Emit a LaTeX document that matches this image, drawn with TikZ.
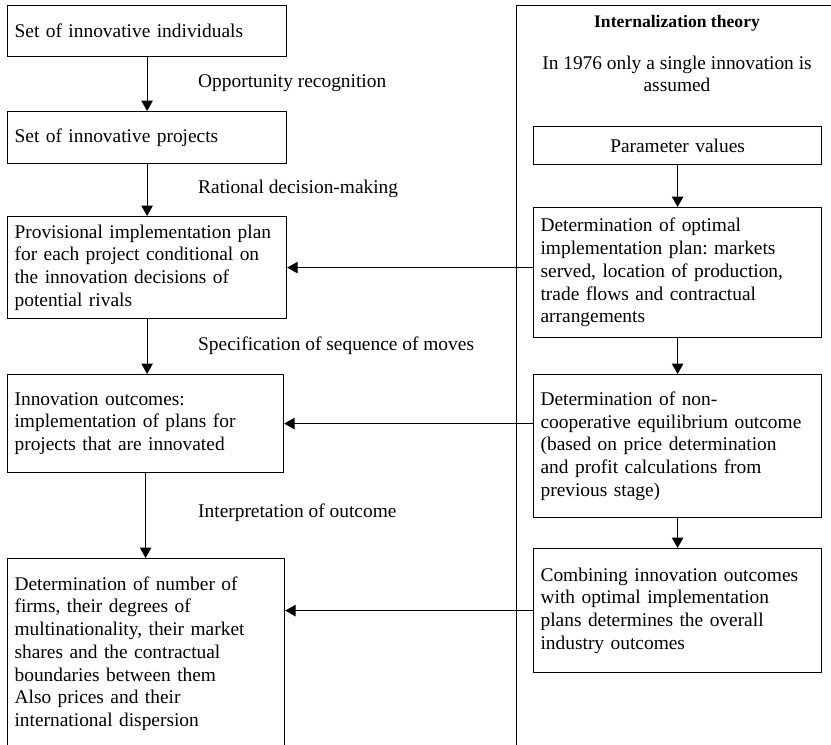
\documentclass[tikz,border=0pt]{standalone}
\usepackage{fontspec}
\setmainfont{Liberation Serif}
\frenchspacing
\usetikzlibrary{arrows.meta}
\begin{document}
\begin{tikzpicture}[x=1pt,y=-1pt,
  every node/.style={font=\fontsize{19.4}{22.7}\selectfont},
  box/.style={draw, line width=1.2pt, anchor=north west, inner xsep=7pt, inner ysep=0pt, align=left},
  lbox/.style={box, text width=265pt, minimum width=279pt},
  rbox/.style={box, text width=274pt, minimum width=288pt},
  arr/.style={line width=1.2pt, -{Triangle[length=10.5pt,width=11.5pt]}},
  lab/.style={anchor=west, inner sep=0pt}]
\useasboundingbox (0,0) rectangle (831,745);
\clip (0,0) rectangle (831,745);

% right-hand frame, open towards the page edges
\node[draw, line width=1.2pt, anchor=north west, minimum width=330pt, minimum height=760pt, inner sep=0pt] (frame) at (516,5) {};
\node[font=\fontsize{17.6}{21}\selectfont\bfseries, inner sep=0pt] (title) at (677,23) {Internalization theory};
\node[align=center, inner sep=0pt] (note) at (677,74) {In 1976 only a single innovation is\\assumed};

% left column
\node[lbox, minimum height=51pt] (ind) at (7,5) {Set of innovative individuals};
\node[lbox, minimum height=52pt] (proj) at (7,111) {Set of innovative projects};
\node[lbox, minimum height=102pt] (prov) at (7,216) {Provisional implementation plan\\for each project conditional on\\the innovation decisions of\\potential rivals};
\node[lbox, text width=262pt, minimum width=276pt, minimum height=98pt] (inno) at (7,374) {Innovation outcomes:\\implementation of plans for\\projects that are innovated};
\node[lbox, text width=263pt, minimum width=277pt, minimum height=190pt] (firms) at (7,558) {Determination of number of\\firms, their degrees of\\multinationality, their market\\shares and the contractual\\boundaries between them\\Also prices and their\\international dispersion};

% labels between the left boxes
\node[lab] (l1) at (198,83) {Opportunity recognition};
\node[lab] (l2) at (198,189) {Rational decision-making};
\node[lab] (l3) at (198,346) {Specification of sequence of moves};
\node[lab] (l4) at (198,513) {Interpretation of outcome};

% right column
\node[rbox, align=center, minimum height=38pt] (param) at (533,126) {Parameter values};
\node[rbox, minimum height=130pt] (opt) at (533,207) {Determination of optimal\\implementation plan: markets\\served, location of production,\\trade flows and contractual\\arrangements};
\node[rbox, minimum height=143pt] (nc) at (533,374) {Determination of non-\\cooperative equilibrium outcome\\(based on price determination\\and profit calculations from\\previous stage)};
\node[rbox, minimum height=124pt] (comb) at (533,548) {Combining innovation outcomes\\with optimal implementation\\plans determines the overall\\industry outcomes};

% vertical flow
\draw[arr] (ind) -- (proj);
\draw[arr] (proj) -- (prov);
\draw[arr] (prov.south) -- (prov.south |- inno.north);
\draw[arr] (inno.south) -- (inno.south |- firms.north);
\draw[arr] (param) -- (opt);
\draw[arr] (opt) -- (nc);
\draw[arr] (nc) -- (comb);

% horizontal links
\draw[arr] (opt.west |- prov.east) -- (prov.east);
\draw[arr] (nc.west |- inno.east) -- (inno.east);
\draw[arr] (comb.west) -- (comb.west -| firms.east);
\end{tikzpicture}
\end{document}
